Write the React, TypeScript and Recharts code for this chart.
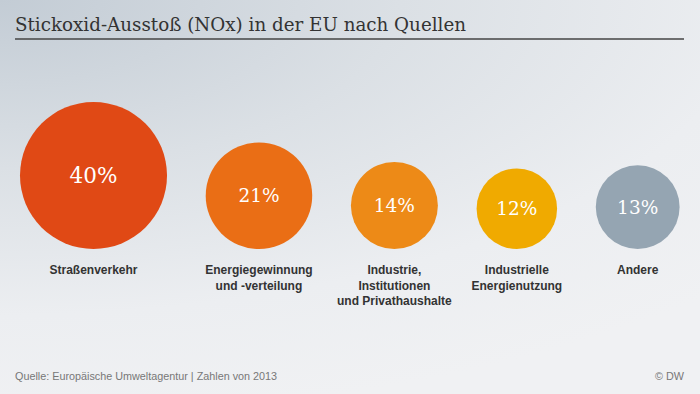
import React from 'react';
import { ScatterChart, Scatter, XAxis, YAxis, ZAxis } from 'recharts';

const categories = [
  'Straßenverkehr',
  'Energiegewinnung\nund -verteilung',
  'Industrie,\nInstitutionen\nund Privathaushalte',
  'Industrielle\nEnergienutzung',
  'Andere',
];
const shares = [40, 21, 14, 12, 13];
const colors = ['#e04915', '#ea6e15', '#ed8a17', '#f0aa00', '#95a5b2'];
const titleText = 'Stickoxid-Ausstoß (NOx) in der EU nach Quellen';
const sourceText = 'Quelle: Europäische Umweltagentur | Zahlen von 2013';
const creditText = '© DW';

const W = 700;
const H = 394;
const MAX_R = 73.5;
const GAP = 38.7;
const START = 20;
const BASELINE = 249;
const MAX_SHARE = Math.max(...shares);

const radiusOf = (v: number) => MAX_R * Math.sqrt(v / MAX_SHARE);

// packed side-by-side layout derived from the values
const data = (() => {
  let edge = START;
  return categories.map((name, i) => {
    const r = radiusOf(shares[i]);
    const x = edge + r;
    edge = edge + 2 * r + GAP;
    return { name, share: shares[i], x, y: 0, color: colors[i] };
  });
})();

const Bubble = (props: any) => {
  const { cx, cy, width, payload } = props;
  const r = width / 2;
  const lines = String(payload.name).split('\n');
  const big = payload.share === MAX_SHARE;
  return (
    <g>
      <circle cx={cx} cy={cy - r} r={r} fill={payload.color} />
      <text
        x={cx}
        y={cy - r}
        textAnchor="middle"
        dominantBaseline="central"
        fill="#ffffff"
        fontFamily="'DejaVu Serif', Georgia, serif"
        fontSize={big ? 21.5 : 18.5}
        style={{ fontVariantNumeric: 'oldstyle-nums' }}
      >
        {payload.share}%
      </text>
      {lines.map((ln, k) => (
        <text
          key={k}
          x={cx}
          y={cy + 25 + k * 15.5}
          textAnchor="middle"
          fill="#333333"
          fontFamily="'Liberation Sans', Arial, sans-serif"
          fontWeight="bold"
          fontSize={12}
        >
          {ln}
        </text>
      ))}
    </g>
  );
};

export default function App() {
  return (
    <div
      style={{
        position: 'absolute',
        left: 0,
        top: 0,
        width: W,
        height: H,
        overflow: 'hidden',
        background:
          'radial-gradient(ellipse 1000px 420px at 0% 0%, #c3ccd5 0%, #dbe0e5 40%, #eceef1 75%, #f0f1f3 100%)',
      }}
    >
      <svg width={W} height={H} style={{ position: 'absolute', left: 0, top: 0 }}>
        <text
          x={15}
          y={31}
          fill="#333333"
          fontFamily="'DejaVu Serif', Georgia, serif"
          fontSize={18.3}
        >
          {titleText}
        </text>
        <line x1={15} x2={684} y1={39} y2={39} stroke="#444444" strokeWidth={1.5} />
        <text
          x={15}
          y={380}
          fill="#777777"
          fontFamily="'Liberation Sans', Arial, sans-serif"
          fontSize={10.8}
        >
          {sourceText}
        </text>
        <text
          x={684}
          y={380}
          textAnchor="end"
          fill="#777777"
          fontFamily="'Liberation Sans', Arial, sans-serif"
          fontSize={10.8}
        >
          {creditText}
        </text>
      </svg>
      <div style={{ position: 'absolute', left: 0, top: 0 }}>
        <ScatterChart
          width={W}
          height={H}
          margin={{ top: 0, right: 0, bottom: H - BASELINE, left: 0 }}
        >
          <XAxis type="number" dataKey="x" domain={[0, W]} hide />
          <YAxis type="number" dataKey="y" domain={[0, 1]} hide />
          <ZAxis
            type="number"
            dataKey="share"
            domain={[0, MAX_SHARE]}
            range={[0, Math.PI * MAX_R * MAX_R]}
          />
          <Scatter data={data} shape={<Bubble />} isAnimationActive={false} />
        </ScatterChart>
      </div>
    </div>
  );
}
